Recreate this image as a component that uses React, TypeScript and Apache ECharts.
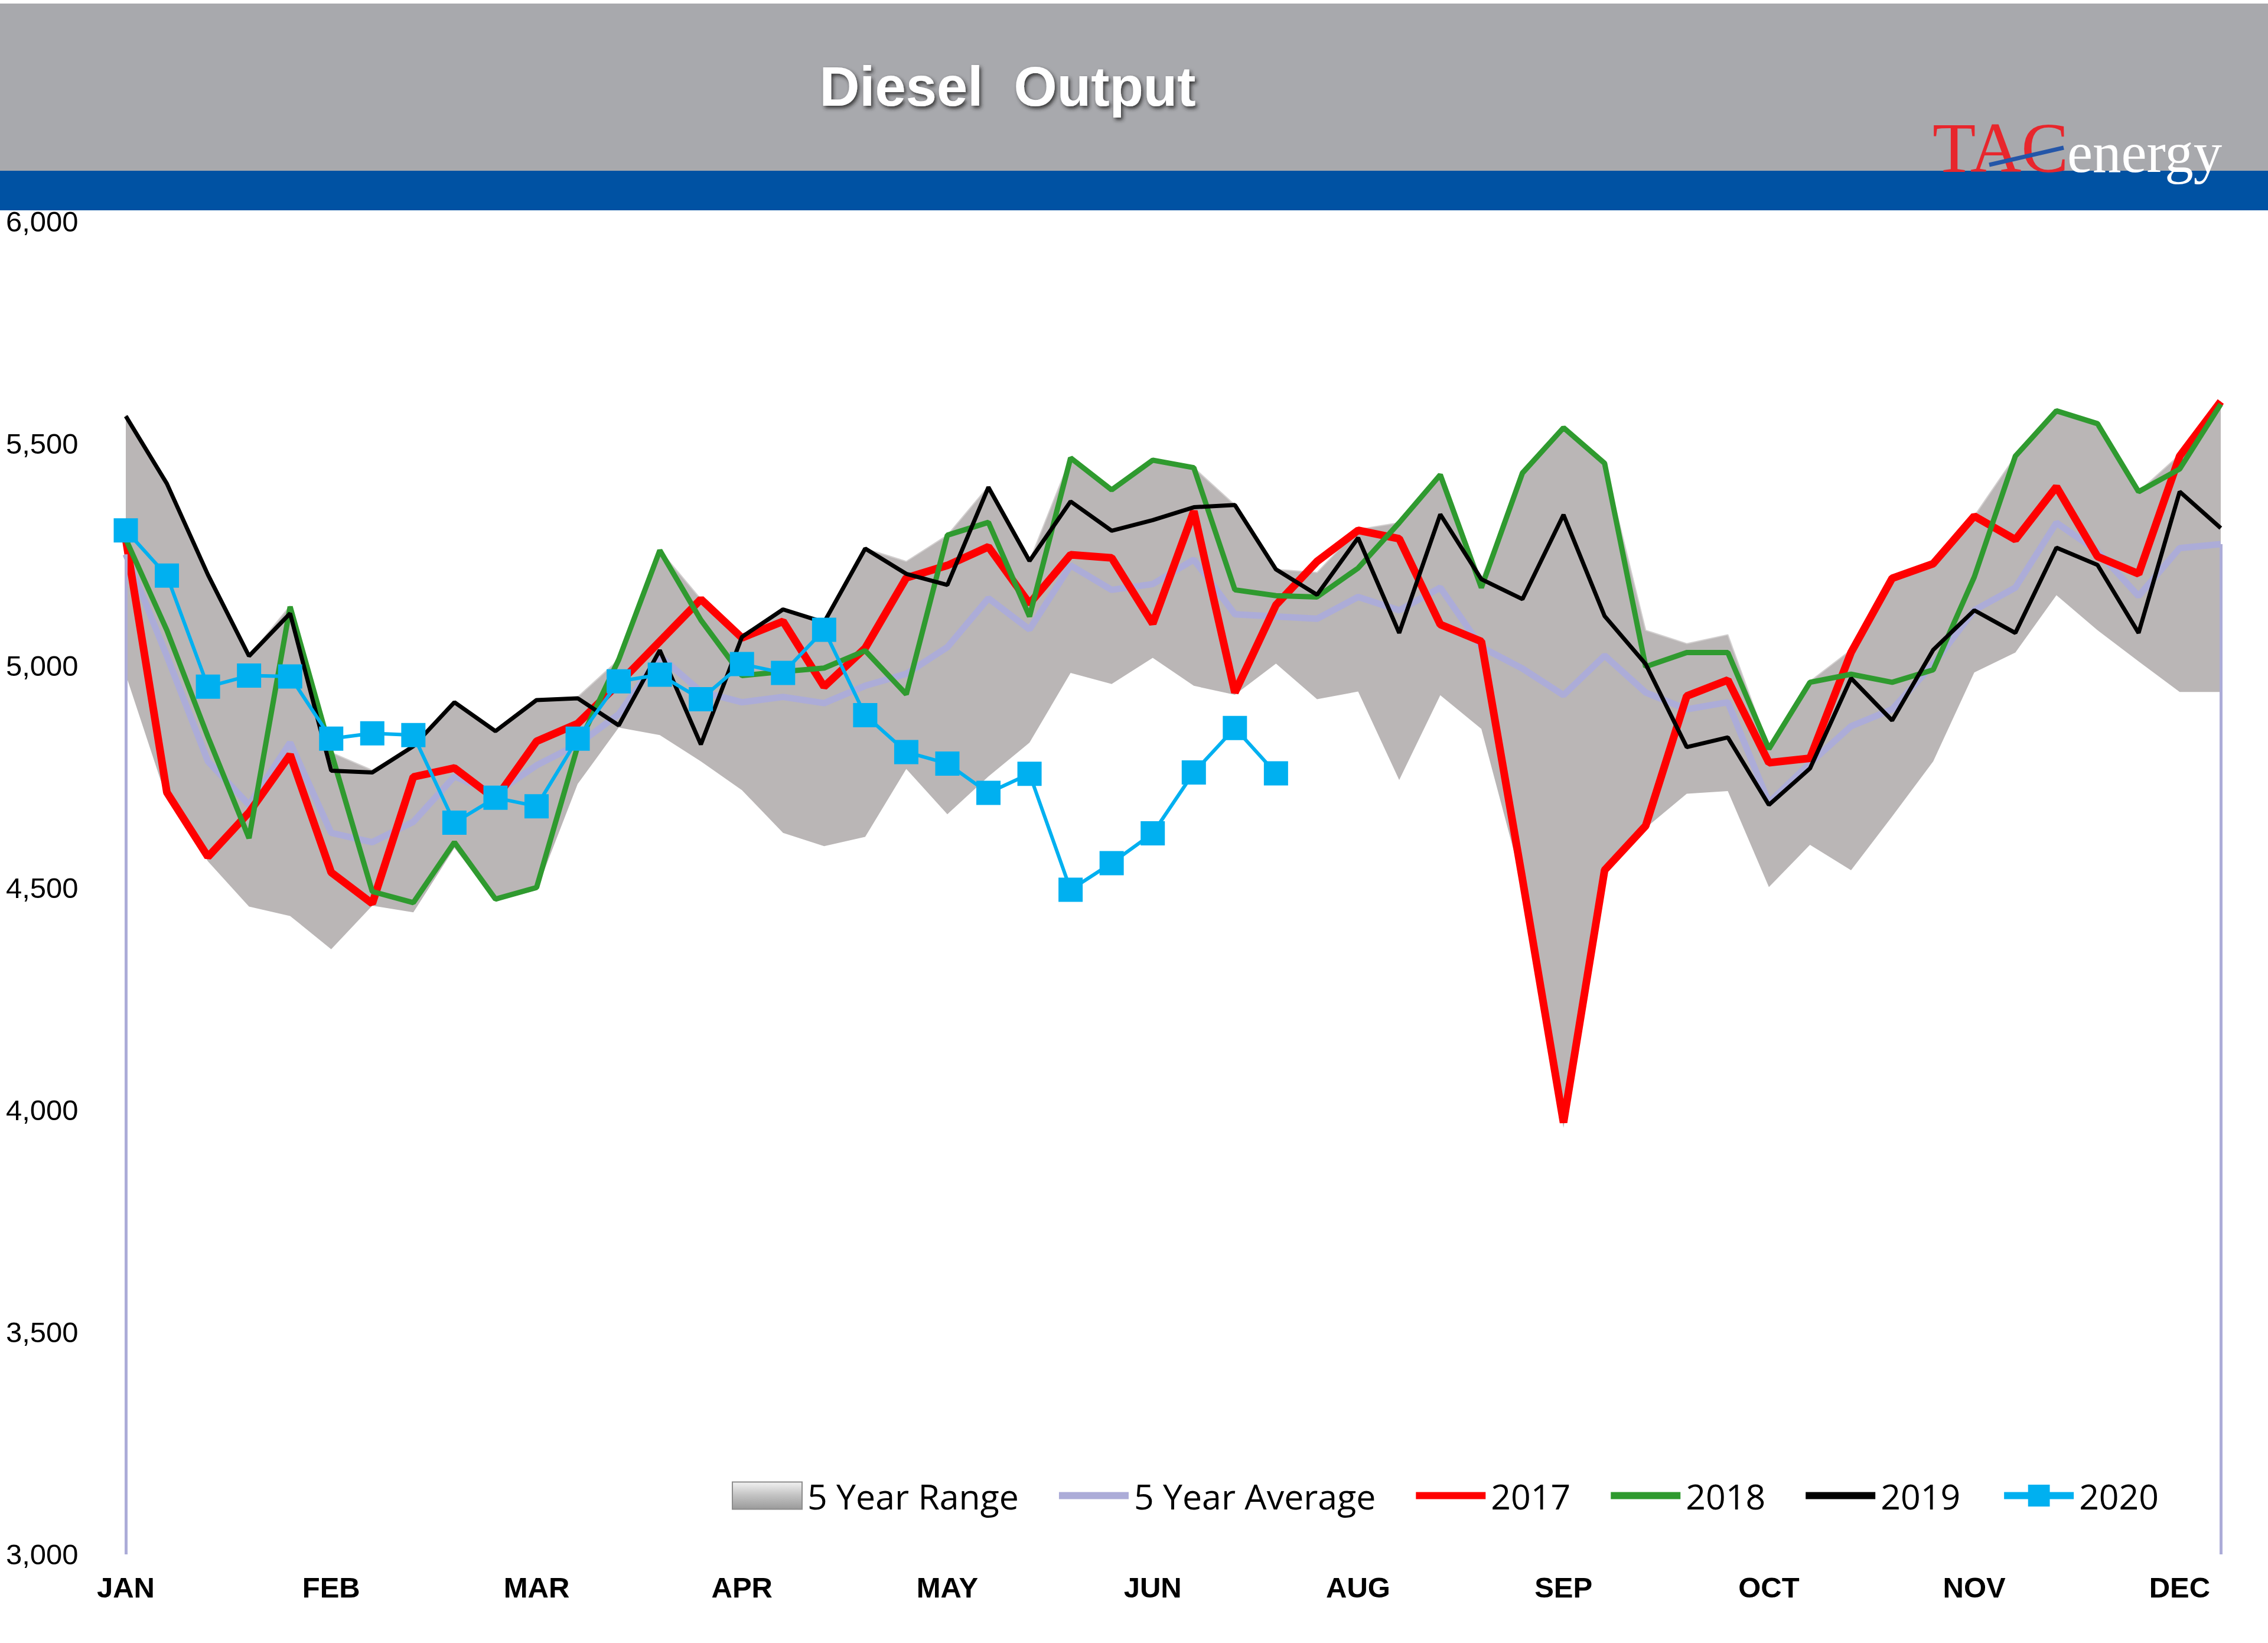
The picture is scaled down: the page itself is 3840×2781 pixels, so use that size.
import React, { useEffect, useRef } from "react";
import * as echarts from "echarts";

const weeks = [
  "1", "2", "3", "4", "5", "6", "7", "8", "9", "10", "11", "12", "13",
  "14", "15", "16", "17", "18", "19", "20", "21", "22", "23", "24", "25", "26",
  "27", "28", "29", "30", "31", "32", "33", "34", "35", "36", "37", "38", "39",
  "40", "41", "42", "43", "44", "45", "46", "47", "48", "49", "50", "51", "52",
];

const monthLabels = ["JAN", "FEB", "MAR", "APR", "MAY", "JUN", "AUG", "SEP", "OCT", "NOV", "DEC"];

const rangeLow = [
  4980, 4700, 4560, 4458, 4437, 4362, 4460, 4445, 4590, 4470, 4495, 4734, 4861,
  4844, 4785, 4720, 4624, 4594, 4615, 4768, 4666, 4751, 4827, 4984, 4959, 5018,
  4955, 4935, 5005, 4925, 4942, 4743, 4934, 4858, 4510, 3960, 4530, 4635, 4712,
  4718, 4502, 4597, 4540, 4661, 4785, 4985, 5030, 5159, 5080, 5010, 4941, 4941,
];

const rangeHigh = [
  5565, 5412, 5205, 5022, 5135, 4805, 4765, 4820, 4920, 4855, 4925, 4930, 5014,
  5260, 5150, 5068, 5128, 5100, 5264, 5235, 5294, 5404, 5236, 5468, 5396, 5463,
  5446, 5362, 5217, 5210, 5307, 5322, 5430, 5195, 5434, 5536, 5456, 5080, 5050,
  5070, 4815, 4965, 5036, 5197, 5235, 5337, 5472, 5574, 5545, 5392, 5475, 5596,
];

const avg5 = [
  5251, 5022, 4785, 4687, 4827, 4624, 4603, 4649, 4751, 4713, 4776, 4823, 4891,
  5022, 4942, 4918, 4930, 4916, 4955, 4982, 5042, 5152, 5082, 5226, 5171, 5184,
  5239, 5116, 5111, 5106, 5155, 5125, 5176, 5042, 4994, 4934, 5023, 4940, 4902,
  4918, 4692, 4781, 4864, 4902, 5004, 5125, 5176, 5322, 5258, 5157, 5265, 5274,
];

const y2017 = [
  5285, 4715, 4570, 4670, 4800, 4535, 4465, 4750, 4770, 4700, 4830, 4870, 4960,
  5055, 5150, 5063, 5100, 4953, 5040, 5198, 5226, 5268, 5140, 5250, 5243, 5095,
  5348, 4940, 5137, 5235, 5305, 5286, 5093, 5055, 4520, 3972, 4540, 4640, 4932,
  4968, 4782, 4792, 5030, 5197, 5230, 5337, 5284, 5403, 5246, 5207, 5472, 5595,
];

const y2018 = [
  5285, 5080, 4840, 4612, 5133, 4805, 4492, 4467, 4603, 4475, 4501, 4819, 5014,
  5260, 5103, 4978, 4987, 4995, 5034, 4936, 5294, 5323, 5111, 5468, 5396, 5463,
  5446, 5171, 5158, 5155, 5220, 5322, 5430, 5176, 5434, 5536, 5456, 4998, 5030,
  5030, 4813, 4963, 4981, 4963, 4991, 5200, 5472, 5574, 5545, 5392, 5443, 5589,
];

const y2019 = [
  5562, 5410, 5205, 5022, 5118, 4764, 4760, 4819, 4918, 4853, 4923, 4927, 4866,
  5035, 4823, 5065, 5127, 5098, 5264, 5207, 5182, 5402, 5236, 5370, 5304, 5328,
  5357, 5362, 5217, 5160, 5288, 5074, 5341, 5195, 5150, 5340, 5112, 5004, 4817,
  4839, 4687, 4769, 4972, 4877, 5036, 5125, 5074, 5266, 5227, 5074, 5392, 5310,
];

const y2020 = [
  5305, 5203, 4953, 4978, 4976, 4836, 4848, 4844, 4647, 4703, 4684, 4836, 4965,
  4980, 4925, 5004, 4984, 5081, 4889, 4806, 4780, 4714, 4757, 4496, 4556, 4623,
  4760, 4860, 4758,
];

const Y_MIN = 3000;
const Y_MAX = 6000;
const Y_STEP = 500;

const C_RANGE = "#bab6b6";
const C_AVG = "#acacd8";
const C_2017 = "#ff0000";
const C_2018 = "#2f9a2f";
const C_2019 = "#000000";
const C_2020 = "#00b0f0";

const LINE_ICON = "path://M0,0L118,0L118,12L0,12Z";

export default function App() {
  const ref = useRef<HTMLDivElement>(null);

  useEffect(() => {
    if (!ref.current) return;
    const chart = echarts.init(ref.current, null, { renderer: "svg" });
    const bandDiff = rangeHigh.map((h, i) => h - rangeLow[i]);
    const last = weeks.length - 1;

    const option: any = {
      animation: false,
      backgroundColor: "#ffffff",
      graphic: [
        { type: "rect", shape: { x: 0, y: 6, width: 3840, height: 283 }, style: { fill: "#a8a9ad" }, z: 0 },
        { type: "rect", shape: { x: 0, y: 289, width: 3840, height: 67 }, style: { fill: "#0052a3" }, z: 0 },
        {
          type: "text",
          x: 1706,
          y: 146,
          z: 5,
          style: {
            text: "Diesel  Output",
            fill: "#ffffff",
            fontSize: 94,
            fontWeight: "bold",
            fontFamily: '"Liberation Sans", Arial, sans-serif',
            align: "center",
            verticalAlign: "middle",
            textShadowColor: "rgba(40,40,40,0.85)",
            textShadowBlur: 6,
            textShadowOffsetX: 3,
            textShadowOffsetY: 4,
          },
        },
        {
          type: "text",
          x: 3272,
          y: 250,
          z: 5,
          style: {
            text: "TAC",
            fill: "#e8262c",
            fontSize: 120,
            fontFamily: '"Liberation Serif", "DejaVu Serif", serif',
            align: "left",
            verticalAlign: "middle",
          },
        },
        {
          type: "text",
          x: 3500,
          y: 258,
          z: 5,
          style: {
            text: "energy",
            fill: "#ffffff",
            fontSize: 97,
            fontFamily: '"Liberation Serif", "DejaVu Serif", serif',
            align: "left",
            verticalAlign: "middle",
          },
        },
        {
          type: "line",
          z: 6,
          shape: { x1: 3368, y1: 279, x2: 3494, y2: 250 },
          style: { stroke: "#2456a8", lineWidth: 7 },
        },
      ],
      grid: { left: 213, right: 80, top: 375, bottom: 150, containLabel: false },
      legend: {
        left: 1234,
        top: 2497,
        itemWidth: 118,
        itemHeight: 46,
        itemGap: 68,
        textStyle: {
          fontSize: 59,
          color: "#000000",
          fontFamily: '"Open Sans", "Liberation Sans", sans-serif',
          padding: [0, 0, 0, 4],
        },
        data: [
          {
            name: "5 Year Range",
            icon: "rect",
            itemStyle: {
              color: new echarts.graphic.LinearGradient(0, 0, 0, 1, [
                { offset: 0, color: "#f2f2f2" },
                { offset: 0.45, color: "#c6c6c6" },
                { offset: 1, color: "#9a9a9a" },
              ]),
              borderColor: "#8c8c8c",
              borderWidth: 2,
            },
          },
          { name: "5 Year Average", icon: LINE_ICON },
          { name: "2017", icon: LINE_ICON },
          { name: "2018", icon: LINE_ICON },
          { name: "2019", icon: LINE_ICON },
          { name: "2020", lineStyle: { width: 12 } },
        ],
      },
      xAxis: {
        type: "category",
        data: weeks,
        boundaryGap: false,
        axisLine: {
          show: true,
          lineStyle: { color: "#c9c9c9", width: 6, shadowBlur: 6, shadowColor: "rgba(150,150,150,0.6)" },
        },
        axisTick: { show: false },
        splitLine: { show: false },
        axisLabel: {
          interval: 4,
          margin: 31,
          fontSize: 49,
          fontWeight: "bold",
          color: "#000000",
          fontFamily: '"Liberation Sans", Arial, sans-serif',
          formatter: (_v: string, i: number) => monthLabels[i / 5] ?? "",
        },
      },
      yAxis: {
        type: "value",
        min: Y_MIN,
        max: Y_MAX,
        interval: Y_STEP,
        axisLine: { show: false },
        axisTick: { show: false },
        splitLine: { show: false },
        axisLabel: {
          align: "left",
          margin: 203,
          fontSize: 49,
          color: "#000000",
          fontFamily: '"Liberation Sans", Arial, sans-serif',
          formatter: (v: number) => v.toLocaleString("en-US"),
        },
      },
      series: [
        {
          name: "rangeBase",
          type: "line",
          stack: "range",
          data: rangeLow,
          symbol: "none",
          lineStyle: { width: 0, opacity: 0 },
          silent: true,
          z: 1,
        },
        {
          name: "5 Year Range",
          type: "line",
          stack: "range",
          data: bandDiff,
          symbol: "none",
          color: C_RANGE,
          lineStyle: { width: 2, color: "#d2cfcf" },
          areaStyle: { color: C_RANGE, opacity: 1 },
          silent: true,
          z: 1,
        },
        {
          name: "5 Year Average",
          type: "line",
          data: avg5,
          symbol: "none",
          color: C_AVG,
          lineStyle: { width: 11, color: C_AVG },
          z: 2,
          markLine: {
            silent: true,
            symbol: "none",
            label: { show: false },
            lineStyle: { color: C_AVG, width: 5, type: "solid" },
            data: [
              [{ coord: [weeks[0], Y_MIN] }, { coord: [weeks[0], avg5[0]] }],
              [{ coord: [weeks[last], Y_MIN] }, { coord: [weeks[last], avg5[last]] }],
            ],
          },
        },
        {
          name: "2017",
          type: "line",
          data: y2017,
          symbol: "none",
          color: C_2017,
          lineStyle: { width: 13, color: C_2017 },
          z: 3,
        },
        {
          name: "2018",
          type: "line",
          data: y2018,
          symbol: "none",
          color: C_2018,
          lineStyle: { width: 9, color: C_2018 },
          z: 4,
        },
        {
          name: "2019",
          type: "line",
          data: y2019,
          symbol: "none",
          color: C_2019,
          lineStyle: { width: 7, color: C_2019 },
          z: 5,
        },
        {
          name: "2020",
          type: "line",
          data: y2020,
          symbol: "rect",
          symbolSize: 41,
          showSymbol: true,
          color: C_2020,
          itemStyle: { color: C_2020 },
          lineStyle: { width: 6, color: C_2020 },
          z: 6,
        },
      ],
    };

    chart.setOption(option);
    return () => {
      chart.dispose();
    };
  }, []);

  return (
    <div
      ref={ref}
      style={{ position: "absolute", left: 0, top: 0, width: 3840, height: 2781, background: "#fff" }}
    />
  );
}
